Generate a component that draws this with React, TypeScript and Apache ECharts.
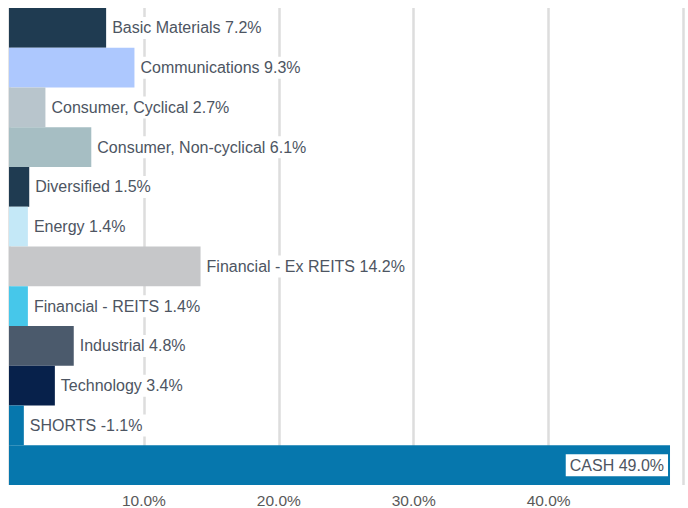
import React, { useEffect, useRef } from "react";
import * as echarts from "echarts";

const categories = [
  "Basic Materials",
  "Communications",
  "Consumer, Cyclical",
  "Consumer, Non-cyclical",
  "Diversified",
  "Energy",
  "Financial - Ex REITS",
  "Financial - REITS",
  "Industrial",
  "Technology",
  "SHORTS",
  "CASH",
];

const values = [7.2, 9.3, 2.7, 6.1, 1.5, 1.4, 14.2, 1.4, 4.8, 3.4, -1.1, 49.0];

const colors = [
  "#1f3b51",
  "#adc8fe",
  "#b8c5cc",
  "#a6bec3",
  "#1f3b51",
  "#c4e8f7",
  "#c6c7c9",
  "#46c7ea",
  "#4b5a6c",
  "#07214b",
  "#0677ad",
  "#0677ad",
];

const tickValues = [10, 20, 30, 40];

export default function App() {
  const ref = useRef<HTMLDivElement>(null);

  useEffect(() => {
    if (!ref.current) return;
    const chart = echarts.init(ref.current, null, { renderer: "svg" });
    const data = values.map((v, i) => {
      const isLast = i === values.length - 1;
      return {
        value: Math.abs(v),
        name: categories[i],
        itemStyle: { color: colors[i] },
        label: isLast
          ? { position: "insideRight", distance: 2 }
          : { position: "right", distance: 2 },
      };
    });
    chart.setOption({
      animation: false,
      backgroundColor: "#ffffff",
      grid: { left: 9, right: 4.5, top: 8, bottom: 23, containLabel: false },
      xAxis: {
        type: "value",
        min: 0,
        max: 50,
        interval: 10,
        axisLine: { show: false },
        axisTick: { show: false },
        splitLine: { show: true, lineStyle: { color: "#dddddd", width: 2.5 } },
        axisLabel: {
          color: "#595959",
          fontSize: 15.5,
          fontFamily: "Liberation Sans, Arial, sans-serif",
          margin: 7,
          formatter: (v: number) =>
            tickValues.includes(v) ? v.toFixed(1) + "%" : "",
        },
      },
      yAxis: {
        type: "category",
        inverse: true,
        data: categories,
        axisLine: { show: false },
        axisTick: { show: false },
        axisLabel: { show: false },
        splitLine: { show: false },
      },
      series: [
        {
          type: "bar",
          barCategoryGap: 0,
          data,
          label: {
            show: true,
            color: "#4d5562",
            fontSize: 16,
            fontFamily: "Liberation Sans, Arial, sans-serif",
            backgroundColor: "#ffffff",
            padding: [3, 4, 3, 4],
            formatter: (p: any) =>
              `${categories[p.dataIndex]} ${values[p.dataIndex].toFixed(1)}%`,
          },
        },
      ],
    });
    return () => chart.dispose();
  }, []);

  return (
    <div
      ref={ref}
      style={{ position: "absolute", left: 0, top: 0, width: 688, height: 508 }}
    />
  );
}
